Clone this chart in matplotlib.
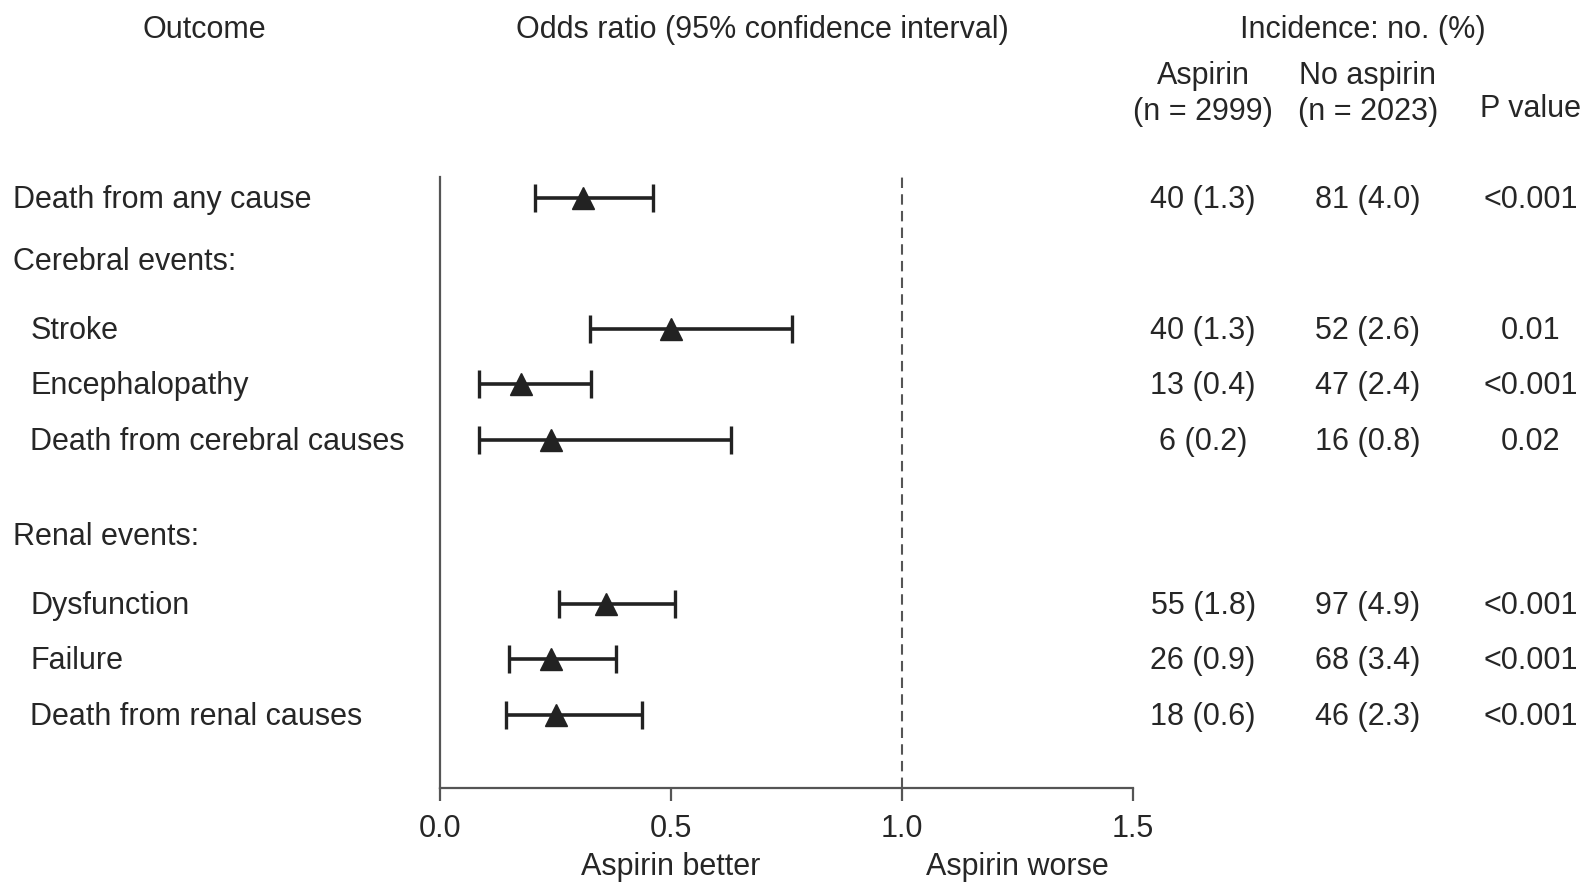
import matplotlib
matplotlib.use("Agg")
import matplotlib.pyplot as plt
import matplotlib.transforms as mtransforms

plt.rcParams["font.family"] = ["Liberation Sans", "DejaVu Sans"]
plt.rcParams["font.size"] = 22
plt.rcParams["text.color"] = "#262626"

# outcome rows (header rows carry no estimate)
labels = ["Death from any cause", "Cerebral events:", "Stroke", "Encephalopathy",
          "Death from cerebral causes", "Renal events:", "Dysfunction", "Failure",
          "Death from renal causes"]
is_header = [False, True, False, False, False, True, False, False, False]
indented = [False, False, True, True, True, False, True, True, True]
odds = [0.31, None, 0.50, 0.175, 0.24, None, 0.36, 0.24, 0.25]
ci_low = [0.205, None, 0.325, 0.085, 0.085, None, 0.258, 0.15, 0.143]
ci_high = [0.462, None, 0.762, 0.326, 0.63, None, 0.508, 0.381, 0.438]
aspirin = ["40 (1.3)", "", "40 (1.3)", "13 (0.4)", "6 (0.2)", "", "55 (1.8)", "26 (0.9)", "18 (0.6)"]
no_aspirin = ["81 (4.0)", "", "52 (2.6)", "47 (2.4)", "16 (0.8)", "", "97 (4.9)", "68 (3.4)", "46 (2.3)"]
p_values = ["<0.001", "", "0.01", "<0.001", "0.02", "", "<0.001", "<0.001", "<0.001"]
xticks = [0.0, 0.5, 1.0, 1.5]
xtick_labels = ["0.0", "0.5", "1.0", "1.5"]

# vertical layout of rows (row units, top to bottom)
row_y = [0, 1.13, 2.36, 3.35, 4.36, 6.07, 7.31, 8.31, 9.31]

fig = plt.figure(figsize=(15.83, 8.85), dpi=100)
ax = fig.add_axes([0.278, 0.110, 0.4377, 0.690])

ink = "#222222"
axis_col = "#555555"

for i in range(len(labels)):
    if is_header[i]:
        continue
    ax.errorbar(odds[i], row_y[i],
                xerr=[[odds[i] - ci_low[i]], [ci_high[i] - odds[i]]],
                fmt="^", color=ink, ecolor=ink, elinewidth=2.6, capsize=10,
                capthick=2.4, markersize=16, zorder=3)

ax.axvline(1.0, color=axis_col, lw=1.5, ls=(0, (5, 3)), zorder=1)

ax.set_xlim(0, 1.5)
ax.set_ylim(10.62, -0.38)
ax.spines["top"].set_visible(False)
ax.spines["right"].set_visible(False)
for s in ("left", "bottom"):
    ax.spines[s].set_color(axis_col)
    ax.spines[s].set_linewidth(1.6)
ax.set_yticks([])
ax.set_xticks(xticks)
ax.set_xticklabels(xtick_labels)
ax.tick_params(axis="x", length=9, width=1.6, color=axis_col, pad=10, labelcolor="#262626")

# table text
tr = mtransforms.blended_transform_factory(fig.transFigure, ax.transData)
for i, lab in enumerate(labels):
    x = 0.0191 if indented[i] else 0.0083
    ax.text(x, row_y[i] + 0.03, lab, transform=tr, ha="left", va="center", clip_on=False)
    ax.text(0.760, row_y[i] + 0.03, aspirin[i], transform=tr, ha="center", va="center", clip_on=False)
    ax.text(0.864, row_y[i] + 0.03, no_aspirin[i], transform=tr, ha="center", va="center", clip_on=False)
    ax.text(0.967, row_y[i] + 0.03, p_values[i], transform=tr, ha="center", va="center", clip_on=False)

# headers
fig.text(0.129, 0.966, "Outcome", ha="center", va="center")
fig.text(0.4815, 0.966, "Odds ratio (95% confidence interval)", ha="center", va="center")
fig.text(0.861, 0.966, "Incidence: no. (%)", ha="center", va="center")
fig.text(0.760, 0.894, "Aspirin\n(n = 2999)", ha="center", va="center", linespacing=1.25)
fig.text(0.864, 0.894, "No aspirin\n(n = 2023)", ha="center", va="center", linespacing=1.25)
fig.text(0.967, 0.877, "P value", ha="center", va="center")

# direction labels under the axis
fig.text(ax.transData.transform((0.5, 0))[0] / fig.bbox.width, 0.020, "Aspirin better",
         ha="center", va="center")
fig.text(ax.transData.transform((1.25, 0))[0] / fig.bbox.width, 0.020, "Aspirin worse",
         ha="center", va="center")

fig.savefig("out.png", dpi=100)
